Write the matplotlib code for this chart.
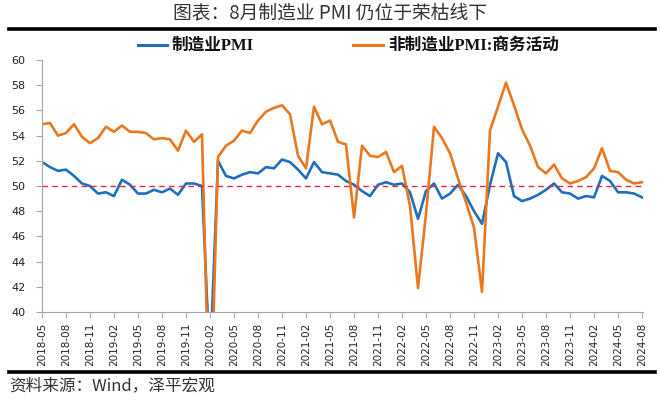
import matplotlib
matplotlib.use('Agg')
import matplotlib.pyplot as plt
from matplotlib.lines import Line2D

plt.rcParams['font.family'] = ['Noto Sans CJK SC', 'DejaVu Sans']

months = []
for y in range(2018, 2025):
    for m in range(1, 13):
        if (y == 2018 and m < 5) or (y == 2024 and m > 8):
            continue
        months.append('{}-{:02d}'.format(y, m))

# 制造业PMI
mfg = [51.9, 51.5, 51.2, 51.3, 50.8, 50.2, 50.0, 49.4,
       49.5, 49.2, 50.5, 50.1, 49.4, 49.4, 49.7, 49.5, 49.8, 49.3, 50.2, 50.2,
       50.0, 35.7, 52.0, 50.8, 50.6, 50.9, 51.1, 51.0, 51.5, 51.4, 52.1, 51.9,
       51.3, 50.6, 51.9, 51.1, 51.0, 50.9, 50.4, 50.1, 49.6, 49.2, 50.1, 50.3,
       50.1, 50.2, 49.5, 47.4, 49.6, 50.2, 49.0, 49.4, 50.1, 49.2, 48.0, 47.0,
       50.1, 52.6, 51.9, 49.2, 48.8, 49.0, 49.3, 49.7, 50.2, 49.5, 49.4, 49.0,
       49.2, 49.1, 50.8, 50.4, 49.5, 49.5, 49.4, 49.1]

# 非制造业PMI:商务活动
non_mfg = [54.9, 55.0, 54.0, 54.2, 54.9, 53.9, 53.4, 53.8,
           54.7, 54.3, 54.8, 54.3, 54.3, 54.2, 53.7, 53.8, 53.7, 52.8, 54.4, 53.5,
           54.1, 29.6, 52.3, 53.2, 53.6, 54.4, 54.2, 55.2, 55.9, 56.2, 56.4, 55.7,
           52.4, 51.4, 56.3, 54.9, 55.2, 53.5, 53.3, 47.5, 53.2, 52.4, 52.3, 52.7,
           51.1, 51.6, 48.4, 41.9, 47.8, 54.7, 53.8, 52.6, 50.6, 48.7, 46.7, 41.6,
           54.4, 56.3, 58.2, 56.4, 54.5, 53.2, 51.5, 51.0, 51.7, 50.6, 50.2, 50.4,
           50.7, 51.4, 53.0, 51.2, 51.1, 50.5, 50.2, 50.3]

labels = ['制造业PMI', '非制造业PMI:商务活动']
threshold = 50

blue = '#1f6fbf'
orange = '#e9781f'

fig = plt.figure(figsize=(6.6, 4), dpi=100)
ax = fig.add_axes([0.0636, 0.22, 0.911, 0.63])

x = list(range(len(months)))
ax.plot(x, mfg, color=blue, lw=1.9, solid_joinstyle='round')
ax.plot(x, non_mfg, color=orange, lw=1.9, solid_joinstyle='round')
ax.axhline(threshold, color='#e8283a', lw=1.0, ls=(0, (4, 3)))

ax.set_ylim(40, 60)
ax.set_yticks(range(40, 61, 2))
ax.set_xlim(0, len(months) - 1 + 0.15)
ax.set_xticks(x[::3])
ax.set_xticklabels(months[::3], rotation=90, family='DejaVu Sans', fontsize=7.5)
for lab in ax.get_yticklabels():
    lab.set_family('DejaVu Sans')
    lab.set_fontsize(8)

for s in ['top', 'right']:
    ax.spines[s].set_visible(False)
for s in ['left', 'bottom']:
    ax.spines[s].set_color('#a6a6a6')
ax.tick_params(axis='both', colors='#a6a6a6', labelcolor='#222222', length=4, width=0.8)
ax.tick_params(axis='y', pad=8)

# legend, drawn by hand to match the spacing
leg_y = 0.887
legfont = ['Liberation Serif', 'Noto Sans CJK SC']
for (x0, x1), col, lab in zip([(138, 167), (353, 383)], [blue, orange], labels):
    fig.add_artist(Line2D([x0 / 660, x1 / 660], [leg_y, leg_y], color=col, lw=2.2))
    fig.text((x1 + 5) / 660, leg_y, lab, ha='left', va='center', fontsize=12,
             weight='bold', family=legfont, color='#111111')

fig.text(0.5, 0.968, '图表：8月制造业 PMI 仍位于荣枯线下', ha='center', va='center',
         fontsize=13.5, color='#333333')
fig.add_artist(Line2D([0.014, 0.992], [0.927, 0.927], color='black', lw=2.6))
fig.add_artist(Line2D([0.014, 0.992], [0.07, 0.07], color='black', lw=2.6))
fig.text(0.014, 0.035, '资料来源：Wind，泽平宏观', ha='left', va='center',
         fontsize=12, color='#333333', style='italic')

fig.savefig('out.png', dpi=100)
